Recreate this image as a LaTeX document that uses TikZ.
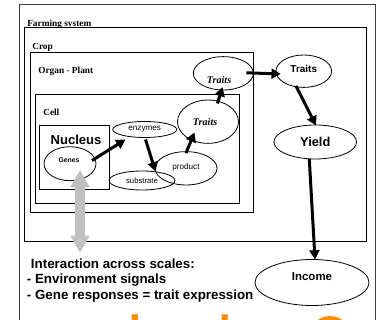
\documentclass[tikz,border=0pt]{standalone}
\usepackage{fontspec}
\setmainfont{Liberation Serif}
\setsansfont{Liberation Sans}
\usetikzlibrary{arrows.meta,shapes.geometric,calc}
\definecolor{orangetxt}{RGB}{255,140,0}
\definecolor{greyarrow}{RGB}{192,192,192}
\begin{document}
\begin{tikzpicture}[x=0.75pt,y=-0.75pt,
  frame/.style={draw=black, line width=0.75pt},
  outerframe/.style={draw=black!75, line width=0.75pt},
  framelabel/.style={anchor=base west, inner sep=0pt, font=\rmfamily\bfseries\fontsize{7}{8}\selectfont},
  oval/.style={ellipse, draw=black, line width=0.6pt, inner sep=0pt},
  smalltxt/.style={font=\sffamily\fontsize{6.1}{7}\selectfont},
  traitit/.style={font=\rmfamily\bfseries\itshape\fontsize{7.6}{9}\selectfont},
  flow/.style={draw=black, line width=2.25pt, -{Triangle[length=7pt,width=7.5pt]}},
  bodytxt/.style={anchor=base west, inner sep=0pt, font=\sffamily\bfseries\fontsize{10}{11}\selectfont}
]
\useasboundingbox (0,0) rectangle (380,320);
\clip (0,0) rectangle (380,320);

% frames
\draw[outerframe] (20,330) -- (20,4.7) -- (375.7,4.7) -- (375.7,330);
\draw[frame] (25,27.7) rectangle (366.2,241.5);
\draw[frame] (30.7,52.3) rectangle (254,212.7);
\draw[frame] (35.7,94.3) rectangle (240,203.2);
\draw[frame] (39.3,126) rectangle (109.7,189.3);

\node[framelabel] (lfarm) at (27,26.3) {Farming system};
\node[framelabel] (lcrop) at (32,49.6) {Crop};
\node[framelabel] (lorgan) at (38,73.3) {Organ - Plant};
\node[framelabel] (lcell) at (43,115.5) {Cell};
\node[font=\sffamily\bfseries\fontsize{9.8}{12}\selectfont, inner sep=0pt] (lnucleus) at (76,140) {Nucleus};

% ellipses
\node[oval, minimum width=39pt, minimum height=25.5pt,
      label={[font=\sffamily\bfseries\fontsize{5.1}{6}\selectfont, yshift=2.3pt, xshift=-0.7pt]center:Genes}] (genes) at (70,163.7) {};
\node[oval, minimum width=48pt, minimum height=12pt, smalltxt] (enzymes) at (144.7,129.5) {enzymes};
\node[oval, minimum width=49.5pt, minimum height=14.25pt, font=\sffamily\fontsize{5.8}{7}\selectfont] (substrate) at (142,180.5) {substrate};
\node[oval, minimum width=46.5pt, minimum height=25pt,
      label={[smalltxt, yshift=1pt]center:product}] (product) at (186,168.3) {};
\node[oval, minimum width=45.75pt, minimum height=32.5pt,
      label={[traitit, xshift=-2.2pt]center:Traits}] (traitsC) at (208,121.7) {};
\node[oval, minimum width=45pt, minimum height=25pt,
      label={[traitit, yshift=-4.8pt, xshift=-3.2pt]center:Traits}] (traitsO) at (223.3,73.3) {};
\node[oval, minimum width=41.7pt, minimum height=24.3pt,
      label={[font=\sffamily\bfseries\fontsize{7.5}{9}\selectfont, yshift=1.4pt]center:Traits}] (traitsP) at (303.8,71.2) {};
\node[oval, minimum width=62pt, minimum height=25.5pt, font=\sffamily\bfseries\fontsize{9.6}{11}\selectfont] (yield) at (315.3,142) {Yield};
\node[oval, minimum width=85.5pt, minimum height=34.5pt,
      label={[font=\sffamily\bfseries\fontsize{8.6}{10}\selectfont, yshift=4.3pt]center:Income}] (income) at (312,282.5) {};

% connectors
\draw[flow] ($(genes)+(22,-3.2)$) -- ($(enzymes)+(-19.2,10)$);
\draw[flow] ($(enzymes)+(0.8,10)$) -- ($(substrate)+(13.5,-9)$);
\draw[flow] ($(product)+(0,-15.3)$) -- ($(traitsC)+(-13.5,10.8)$);
\draw[flow] ($(traitsC)+(9.5,-18.2)$) -- ($(traitsO)+(-0.8,13.7)$);
\draw[flow] ($(traitsO)+(23,-0.5)$) -- ($(traitsP)+(-23,2.8)$);
\draw[flow] ($(traitsP)+(-7.8,14.8)$) -- ($(yield)+(0.7,-16.5)$);
\draw[flow] ($(yield)+(-6,17)$) -- ($(income)+(3,-23)$);

% grey double arrow
\coordinate (scaletop) at ($(genes)+(10,6.3)$);
\coordinate (scalebot) at (80,252.7);
\draw[greyarrow, line width=7.5pt, {Triangle[length=12.75pt,width=13.5pt]}-{Triangle[length=12.75pt,width=13.5pt]}] (scaletop) -- (scalebot);

% text block
\node[bodytxt] (t1) at (30.7,268.3) {Interaction across scales:};
\node[bodytxt] (t2) at (26.7,284) {- Environment signals};
\node[bodytxt] (t3) at (26.7,300) {- Gene responses = trait expression};

% orange text, cut by page edge
\begin{scope}
\clip (20,0) rectangle (380,320);
\node[anchor=base west, inner sep=0pt, text=orangetxt, font=\sffamily\fontsize{52.5}{60}\selectfont] (otxt) at (-36,365.5) {Conclusion?};
\end{scope}
\end{tikzpicture}
\end{document}
